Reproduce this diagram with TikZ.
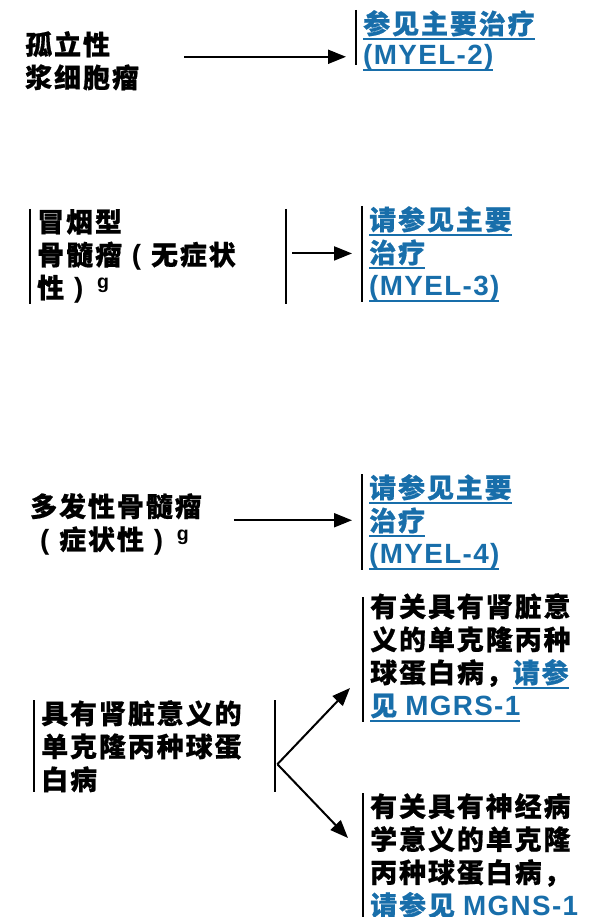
\documentclass[tikz,border=0pt]{standalone}
\usepackage{fontspec}
\usetikzlibrary{arrows.meta,positioning}
\newfontfamily\cjk{Noto Sans CJK SC}[LetterSpace=7, BoldFeatures={FakeBold=0.6}]
\newfontfamily\lat{Liberation Sans}[LetterSpace=5, Scale=1.03]
\definecolor{linkblue}{RGB}{24,110,170}
\newsavebox{\lkbox}
\newcommand{\lk}[1]{\leavevmode\sbox{\lkbox}{#1}\rlap{\vrule height -4pt depth 6pt width\wd\lkbox}\usebox{\lkbox}}
\newcommand{\sups}{\hspace{4pt}\raisebox{9pt}{\lat\fontsize{19}{19}\selectfont g}}
\newcommand{\lp}{\makebox[29pt]{\lat(}}
\newcommand{\rp}{\makebox[29pt]{\lat)}}

\tikzset{
  box/.style={font=\cjk\bfseries\fontsize{27}{33}\selectfont, align=left,
    inner xsep=7pt, inner ysep=0pt, anchor=north west},
  link/.style={box, text=linkblue},
  bar/.style={line width=2pt},
  arr/.style={-{Triangle[length=18pt,width=14pt]}, line width=2pt}
}

\begin{document}
\begin{tikzpicture}[x=1pt,y=-1pt]
\useasboundingbox (0,0) rectangle (589,917);

% solitary plasmacytoma
\node[box] (sp) at (18,31) {孤立性\\浆细胞瘤};
\node[link] (m2) at (356,10) {\lk{参见主要治疗}\\[-2pt]\lk{\lat(MYEL-2)}};
\draw[bar] (m2.north west) -- ([yshift=6pt]m2.south west);
\draw[arr, shorten >=10pt] ([xshift=38pt,yshift=4pt]sp.east) -- ([yshift=4pt]sp.east -| m2.west);

% smoldering myeloma
\node[box, text width=242pt] (sm) at (30,209) {冒烟型\\骨髓瘤\lp 无症状\\性\rp\sups};
\draw[bar] (sm.north west) -- (sm.south west);
\draw[bar] (sm.north east) -- (sm.south east);
\node[link] (m3) at (362,206) {\lk{请参见主要}\\\lk{治疗}\\\lk{\lat(MYEL-3)}};
\draw[bar] (m3.north west) -- (m3.south west);
\draw[arr, shorten >=10pt] ([xshift=6pt,yshift=3pt]sm.east) -- ([yshift=3pt]sm.east -| m3.west);

% multiple myeloma
\node[box] (mm) at (23,493) {多发性骨髓瘤\\\lp 症状性\rp\sups};
\node[link] (m4) at (362,474) {\lk{请参见主要}\\\lk{治疗}\\\lk{\lat(MYEL-4)}};
\draw[bar] (m4.north west) -- (m4.south west);
\draw[arr, shorten >=10pt] ([xshift=25pt,yshift=4pt]mm.east) -- ([yshift=4pt]mm.east -| m4.west);

% MG of renal / neurological significance
\node[box, text width=227pt] (mg) at (34,700) {具有肾脏意义的\\单克隆丙种球蛋\\白病};
\draw[bar] (mg.north west) -- (mg.south west);
\draw[bar] (mg.north east) -- (mg.south east);
\node[box] (mgrs) at (363,593) {有关具有肾脏意\\义的单克隆丙种\\球蛋白病，\textcolor{linkblue}{\lk{请参}}\\\textcolor{linkblue}{\lk{见 {\lat MGRS-1}}}};
\draw[bar] ([yshift=-4pt]mgrs.north west) -- (mgrs.south west);
\node[box] (mgns) at (363,793) {有关具有神经病\\学意义的单克隆\\丙种球蛋白病，\\\textcolor{linkblue}{\lk{请参见 {\lat MGNS-1}}}};
\draw[bar] (mgns.north west) -- (mgns.south west);
\coordinate (br) at ([xshift=2pt,yshift=-18pt]mg.east);
\coordinate (up) at (350,688);
\coordinate (dn) at (348,838);
\draw[arr] (br) -- (up);
\draw[arr] (br) -- (dn);
\end{tikzpicture}
\end{document}
